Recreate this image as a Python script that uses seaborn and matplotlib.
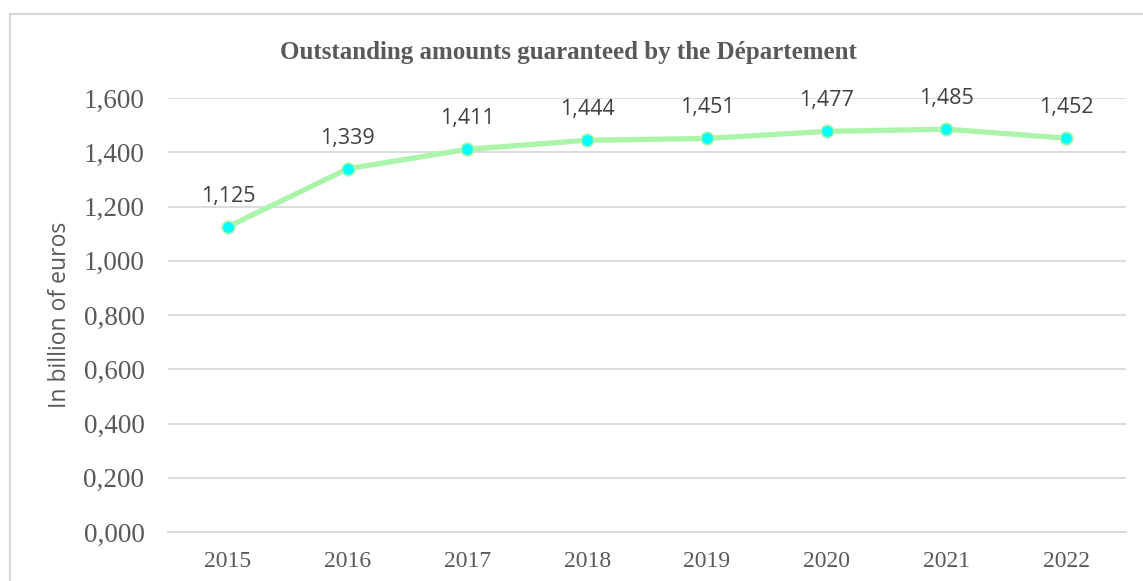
import numpy as np
import matplotlib
matplotlib.use('Agg')
import matplotlib.pyplot as plt
import pandas as pd
import seaborn as sns
from matplotlib.patches import Rectangle
from matplotlib.ticker import FuncFormatter

# encours garantis (milliards d'euros)
annees = [2015, 2016, 2017, 2018, 2019, 2020, 2021, 2022]
encours = [1.125, 1.339, 1.411, 1.444, 1.451, 1.477, 1.485, 1.452]
y_ticks = [0.0, 0.2, 0.4, 0.6, 0.8, 1.0, 1.2, 1.4, 1.6]

titre = 'Outstanding amounts guaranteed by the Département'
label_y = 'In billion of euros'

df = pd.DataFrame({'annee': annees, 'encours': encours})

sns.set_style('white')
gris = '#595959'

fig = plt.figure(figsize=(11.43, 5.81), dpi=100)
ax = fig.add_axes([168 / 1143, 1 - 532 / 581, (1126 - 168) / 1143, (532 - 98) / 581])

sns.lineplot(data=df, x='annee', y='encours', ax=ax, color='#aaf5aa', linewidth=3.8,
             marker='o', markersize=9, markerfacecolor='#00ffff',
             markeredgecolor='#aaf5aa', markeredgewidth=1.2, zorder=3)

def fmt(v):
    return f'{v:.3f}'.replace('.', ',')

for x, y in zip(annees, encours):
    ax.annotate(fmt(y), (x, y), xytext=(0, 22), textcoords='offset points',
                ha='center', va='center', fontsize=15.5, color='#404040',
                family=['Open Sans', 'DejaVu Sans'])

ax.set_xlim(annees[0] - 0.5, annees[-1] + 0.5)
ax.set_ylim(0, 1.6)
ax.set_xticks(annees)
ax.set_yticks(y_ticks)
ax.yaxis.set_major_formatter(FuncFormatter(lambda v, p: fmt(v)))
ax.grid(axis='y', color='#d9d9d9', linewidth=1.3)
ax.set_axisbelow(True)
for s in ['left', 'right', 'top']:
    ax.spines[s].set_visible(False)
ax.spines['bottom'].set_color('#d9d9d9')
ax.spines['bottom'].set_linewidth(1.3)
ax.tick_params(axis='both', length=0, colors=gris)
ax.tick_params(axis='y', labelsize=19.5, pad=17)
ax.tick_params(axis='x', labelsize=17, pad=14)
for t in ax.get_xticklabels() + ax.get_yticklabels():
    t.set_family(['Liberation Serif', 'DejaVu Serif'])
ax.set_xlabel('')
ax.set_ylabel('')

fig.text(60 / 1143, 1 - 315 / 581, label_y, rotation=90, ha='center', va='center',
         fontsize=16.5, color=gris, family=['Open Sans', 'DejaVu Sans'])
fig.text(0.497, 1 - 52 / 581, titre, ha='center', va='center', fontsize=18,
         fontweight='bold', color=gris, family=['Liberation Serif', 'DejaVu Serif'])

fig.patches.append(Rectangle((10 / 1143, -0.1), 1.2, 1 - 14 / 581 + 0.1,
                             transform=fig.transFigure, fill=False,
                             edgecolor='#d9d9d9', linewidth=1.5))

fig.savefig('out.png', dpi=100)
